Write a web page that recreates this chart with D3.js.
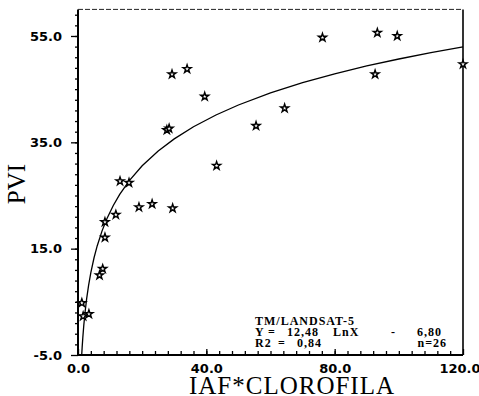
<!DOCTYPE html>
<html>
<head>
<meta charset="utf-8">
<script src="https://cdn.jsdelivr.net/npm/d3@7"></script>
<style>
  body { margin: 0; background: #fff; }
  svg { display: block; }
</style>
</head>
<body>
<svg id="chart"></svg>
<script>
const iafClor = [1.2, 1.6, 3.4, 6.7, 7.7, 8.4, 8.4, 11.8, 13.1, 15.9, 19.0, 23.1, 29.5,
                 29.3, 34.0, 39.5, 27.7, 28.4, 43.2, 55.5, 64.4, 76.2, 93.3, 99.5, 92.6, 120.0];
const pvi = [4.8, 2.3, 2.7, 10.0, 11.2, 17.1, 20.0, 21.4, 27.7, 27.4, 22.8, 23.4, 22.6,
             47.8, 48.8, 43.6, 37.3, 37.6, 30.6, 38.1, 41.4, 54.7, 55.6, 55.0, 47.8, 49.7];

// fitted model printed on the chart: Y = 12,48 LnX - 6,80
const fitCoef = [12.48, -6.80];
const fitX = [1.155, 1.3, 1.5, 1.8, 2.2, 2.7, 3.3, 4, 5, 6, 7.5, 9, 11, 13, 16, 20, 25,
              30, 36, 43, 50, 60, 70, 80, 90, 100, 110, 120];

const yMajor = [-5, 15, 35, 55];
const xMajor = [0, 40, 80, 120];

const width = 479, height = 396;
const margin = { top: 9.4, right: 16, bottom: 41, left: 78 };

const svg = d3.select("#chart")
  .attr("width", width)
  .attr("height", height);

const x = d3.scaleLinear()
  .domain([0, 120])
  .range([margin.left, width - margin.right]);

const y = d3.scaleLinear()
  .domain([-5, 60])
  .range([height - margin.bottom, margin.top]);

const fmt = d => d.toFixed(1);

// minor ticks
svg.append("g")
  .attr("transform", `translate(${margin.left},0)`)
  .call(d3.axisLeft(y).tickValues(d3.range(-3, 60, 2)).tickSize(3).tickFormat(""))
  .call(g => g.select(".domain").remove());

svg.append("g")
  .attr("transform", `translate(0,${y(-5)})`)
  .call(d3.axisBottom(x).tickValues(d3.range(4, 120, 4)).tickSize(-4).tickFormat(""))
  .call(g => g.select(".domain").remove());

// major ticks + labels
svg.append("g")
  .attr("transform", `translate(${margin.left},0)`)
  .call(d3.axisLeft(y).tickValues(yMajor).tickSize(7).tickPadding(9).tickFormat(fmt))
  .call(g => g.select(".domain").remove());

const xAxis = svg.append("g")
  .attr("transform", `translate(0,${y(-5)})`)
  .call(d3.axisBottom(x).tickValues(xMajor).tickSize(-6).tickPadding(9).tickFormat(fmt))
  .call(g => g.select(".domain").remove());

// last label sits against the right edge of the page
xAxis.selectAll(".tick text").filter(d => d === 120).attr("text-anchor", "end").attr("x", 17);

svg.selectAll(".tick line").attr("stroke", "#000").attr("stroke-width", 1.3);
svg.selectAll(".tick text")
  .attr("fill", "#000")
  .style("font-family", "DejaVu Sans")
  .style("font-weight", "bold")
  .style("font-size", "13px");

// frame
svg.append("line")
  .attr("x1", x(0)).attr("x2", x(0)).attr("y1", y(60)).attr("y2", y(-5))
  .attr("stroke", "#000").attr("stroke-width", 2);
svg.append("line")
  .attr("x1", x(0)).attr("x2", x(120)).attr("y1", y(-5)).attr("y2", y(-5))
  .attr("stroke", "#000").attr("stroke-width", 2);
svg.append("line")
  .attr("x1", x(120)).attr("x2", x(120)).attr("y1", y(60)).attr("y2", y(-5))
  .attr("stroke", "#000").attr("stroke-width", 1.6);
svg.append("line")
  .attr("x1", x(0)).attr("x2", x(120)).attr("y1", y(60)).attr("y2", y(60))
  .attr("stroke", "#222").attr("stroke-width", 1).attr("stroke-dasharray", "5,2");

// fitted curve
const line = d3.line()
  .x(d => x(d))
  .y(d => y(fitCoef[0] * Math.log(d) + fitCoef[1]));

svg.append("path")
  .datum(fitX)
  .attr("d", line)
  .attr("fill", "none")
  .attr("stroke", "#000")
  .attr("stroke-width", 1.3);

// points
svg.append("g")
  .selectAll("path")
  .data(d3.range(iafClor.length))
  .join("path")
  .attr("transform", i => `translate(${x(iafClor[i])},${y(pvi[i])})`)
  .attr("d", d3.symbol(d3.symbolStar, 20))
  .attr("fill", "#fff")
  .attr("stroke", "#000")
  .attr("stroke-width", 1.4);

// axis titles
svg.append("text")
  .attr("x", 292)
  .attr("y", 394)
  .attr("text-anchor", "middle")
  .attr("fill", "#000")
  .style("font-family", "Liberation Serif")
  .style("font-size", "25px")
  .style("letter-spacing", "1px")
  .text("IAF*CLOROFILA");

svg.append("text")
  .attr("transform", "translate(25,184) rotate(-90)")
  .attr("text-anchor", "middle")
  .attr("fill", "#000")
  .style("font-family", "Liberation Serif")
  .style("font-size", "25px")
  .text("PVI");

// annotation
const noteText = ["TM/LANDSAT-5", "Y", "=", "12,48", "LnX", "-", "6,80", "R2", "=", "0,84", "n=26"];
const noteX = [255, 255, 268, 287, 333, 391, 417, 255, 278, 297, 447];
const noteY = [325, 336, 336, 336, 336, 336, 336, 346.5, 346.5, 346.5, 346.5];
const noteAnchor = ["start", "start", "start", "start", "start", "start", "start", "start", "start", "start", "end"];

svg.append("g")
  .selectAll("text")
  .data(noteText)
  .join("text")
  .attr("x", (d, i) => noteX[i])
  .attr("y", (d, i) => noteY[i])
  .attr("text-anchor", (d, i) => noteAnchor[i])
  .attr("fill", "#000")
  .style("font-family", "Liberation Serif")
  .style("font-weight", "bold")
  .style("font-size", "12px")
  .style("letter-spacing", "1px")
  .text(d => d);
</script>
</body>
</html>
